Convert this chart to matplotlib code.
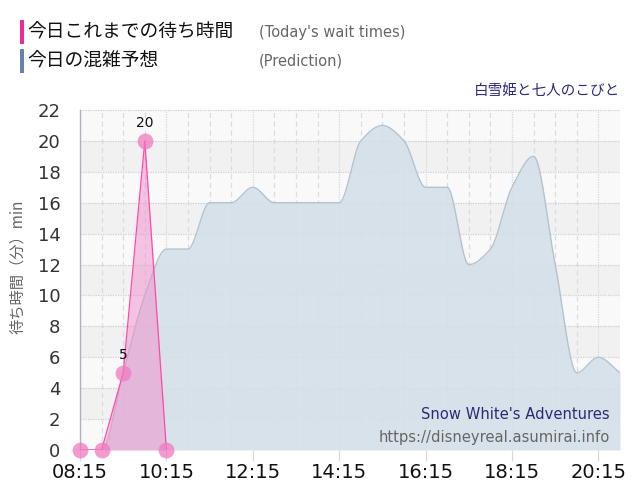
import matplotlib
matplotlib.use("Agg")
import matplotlib.pyplot as plt
import numpy as np

# ---- data ----
actual_times = ["08:15", "08:45", "09:15", "09:45", "10:15"]
actual_vals = [0, 0, 5, 20, 0]

pred_times = ["08:15", "08:45", "09:15", "09:45", "10:15", "10:45", "11:15", "11:45",
              "12:15", "12:45", "13:15", "13:45", "14:15", "14:45", "15:15", "15:45",
              "16:15", "16:45", "17:15", "17:45", "18:15", "18:45", "19:15", "19:45",
              "20:15", "20:45"]
pred_vals = [0, 0, 5, 10, 13, 13, 16, 16,
             17, 16, 16, 16, 16, 20, 21, 20,
             17, 17, 12, 13, 17, 19, 12, 5,
             6, 5]

xtick_labels = ["08:15", "10:15", "12:15", "14:15", "16:15", "18:15", "20:15"]
yticks = list(range(0, 23, 2))
labeled_points = {"09:15": 5, "09:45": 20}

title = "白雪姫と七人のこびと"
legend_jp = ["今日これまでの待ち時間", "今日の混雑予想"]
legend_en = ["(Today's wait times)", "(Prediction)"]
ylabel = "待ち時間（分）min"
attraction_en = "Snow White's Adventures"
site = "https://disneyreal.asumirai.info"


def tmin(s):
    h, m = s.split(":")
    return int(h) * 60 + int(m)


def pchip(x, y, xs):
    x = np.asarray(x, float)
    y = np.asarray(y, float)
    h = np.diff(x)
    d = np.diff(y) / h
    n = len(x)
    m = np.zeros(n)
    for k in range(1, n - 1):
        if d[k - 1] * d[k] <= 0:
            m[k] = 0
        else:
            w1 = 2 * h[k] + h[k - 1]
            w2 = h[k] + 2 * h[k - 1]
            m[k] = (w1 + w2) / (w1 / d[k - 1] + w2 / d[k])
    m[0] = d[0] if n > 1 else 0
    m[-1] = d[-1]
    out = np.empty_like(xs, dtype=float)
    idx = np.clip(np.searchsorted(x, xs) - 1, 0, n - 2)
    for j, xv in enumerate(xs):
        k = idx[j]
        t = (xv - x[k]) / h[k]
        h00 = 2 * t**3 - 3 * t**2 + 1
        h10 = t**3 - 2 * t**2 + t
        h01 = -2 * t**3 + 3 * t**2
        h11 = t**3 - t**2
        out[j] = h00 * y[k] + h10 * h[k] * m[k] + h01 * y[k + 1] + h11 * h[k] * m[k + 1]
    return out


plt.rcParams['font.family'] = ['DejaVu Sans', 'Noto Sans CJK JP']
JP = ['Noto Sans CJK JP', 'DejaVu Sans']

fig = plt.figure(figsize=(6.4, 5.0), dpi=100)
ax = fig.add_axes([0.125, 0.1, 0.84375, 0.68])

xmin, xmax = tmin("08:15"), tmin("20:45")
ax.set_xlim(xmin, xmax)
ax.set_ylim(0, 22)

# background bands
for i, y0 in enumerate(range(0, 22, 2)):
    ax.axhspan(y0, y0 + 2, color='#f9f9f9' if i % 2 == 0 else '#f1f1f1', zorder=0, lw=0)

# grid
for y in yticks[1:]:
    ax.axhline(y, color='#cfcfcf', lw=0.9, ls=(0, (1, 1)), zorder=1)
for t in range(xmin, xmax + 1, 30):
    if (t - xmin) % 120 == 0:
        ax.axvline(t, color='#d8d8d8', lw=0.9, ls=(0, (1, 1)), zorder=1)
    else:
        ax.axvline(t, color='#dcdcdc', lw=0.9, ls=(0, (4, 3)), zorder=1)

# prediction area
px = np.array([tmin(t) for t in pred_times])
xs = np.linspace(px[0], px[-1], 800)
ys = pchip(px, pred_vals, xs)
ax.fill_between(xs, 0, ys, color='#d3dfe8', alpha=0.85, lw=0, zorder=2)
ax.plot(xs, ys, color='#b4c3cf', lw=1.0, zorder=3)

# actual area
ax_x = np.array([tmin(t) for t in actual_times])
ax.fill_between(ax_x, 0, actual_vals, color='#f08ccc', alpha=0.5, lw=0, zorder=4)
ax.plot(ax_x, actual_vals, color='#ff4aa5', lw=0.9, zorder=5)
ax.scatter(ax_x, actual_vals, s=130, color='#f07ac0', alpha=0.75, lw=0, zorder=6, clip_on=False)

for t, v in labeled_points.items():
    ax.annotate(str(v), (tmin(t), v), xytext=(0, 8), textcoords='offset points',
                ha='center', va='bottom', fontsize=10, color='#111111', zorder=7)

# axes styling
for s in ['top', 'right', 'bottom']:
    ax.spines[s].set_visible(False)
ax.spines['left'].set_color('#b0b0c0')
ax.spines['left'].set_linewidth(1.0)

ax.set_yticks(yticks)
ax.set_yticklabels([str(v) for v in yticks], fontsize=13, color='#333333')
ax.tick_params(axis='y', length=0, pad=14)
ax.set_xticks([tmin(t) for t in xtick_labels])
ax.set_xticklabels(xtick_labels, fontsize=14, color='#111111')
ax.tick_params(axis='x', length=8, color='#d8d8d8', pad=1)

ax.set_ylabel(ylabel, fontsize=11, color='#666666', family=JP)
ax.yaxis.set_label_coords(-0.100, 0.54)

# legend (top-left)
legend_colors = ['#f0289a', '#6681aa']
for i, (jp, en, c) in enumerate(zip(legend_jp, legend_en, legend_colors)):
    yc = 1 - (32 + 29 * i) / 500
    fig.patches.append(plt.Rectangle((20 / 640, yc - 12 / 500), 4 / 640, 24 / 500,
                                     transform=fig.transFigure, color=c, lw=0))
    fig.text(27 / 640, yc, jp, fontsize=13.5, family=JP, color='#111111', va='center', ha='left')
    fig.text(259 / 640, yc, en, fontsize=10.5, color='#666666', va='center', ha='left')

fig.text(620 / 640, 1 - 91 / 500, title, fontsize=10.5, family=JP, color='#2a2a78',
         va='center', ha='right')

ax.text(0.981, 0.103, attraction_en, transform=ax.transAxes, ha='right', va='center',
        fontsize=10.6, color='#2a2a78', zorder=8)
ax.text(0.981, 0.038, site, transform=ax.transAxes, ha='right', va='center',
        fontsize=10.6, color='#666666', zorder=8)

fig.savefig('out.png', dpi=100, facecolor='white')
